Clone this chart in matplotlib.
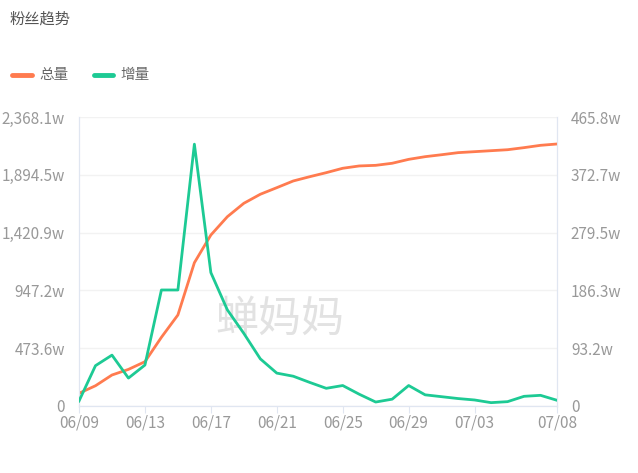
import matplotlib
matplotlib.use("Agg")
import matplotlib.pyplot as plt
from matplotlib.ticker import FixedLocator, FixedFormatter

plt.rcParams['font.family'] = ['Noto Sans CJK SC', 'DejaVu Sans']

# data (unit: w)
dates = ["06/09", "06/10", "06/11", "06/12", "06/13", "06/14", "06/15", "06/16",
         "06/17", "06/18", "06/19", "06/20", "06/21", "06/22", "06/23", "06/24",
         "06/25", "06/26", "06/27", "06/28", "06/29", "06/30", "07/01", "07/02",
         "07/03", "07/04", "07/05", "07/06", "07/07", "07/08"]
total = [104, 166, 254, 300, 363, 563, 746, 1174, 1401, 1551,
         1661, 1735, 1789, 1844, 1879, 1912, 1948, 1967, 1972, 1989,
         2021, 2043, 2059, 2076, 2084, 2092, 2100, 2117, 2136, 2147]
increase = [8, 65, 82, 45, 66, 187, 187, 422, 215, 155,
            117, 76, 53, 48, 38, 28.5, 33, 19, 6.4, 11,
            33, 18, 15, 12, 9.7, 5.4, 7, 15.6, 17.2, 9.2]

left_ticks = [0, 473.6, 947.2, 1420.9, 1894.5, 2368.1]
left_labels = ["0", "473.6w", "947.2w", "1,420.9w", "1,894.5w", "2,368.1w"]
right_ticks = [0, 93.2, 186.3, 279.5, 372.7, 465.8]
right_labels = ["0", "93.2w", "186.3w", "279.5w", "372.7w", "465.8w"]
xtick_idx = [0, 4, 8, 12, 16, 20, 24, 29]

ORANGE = "#ff7b4f"
GREEN = "#1dca94"
GRAY = "#999999"
AXC = "#e0e6f1"

fig = plt.figure(figsize=(6.38, 4.73), dpi=100)
ax = fig.add_axes([79/638, 1-406/473, (557-79)/638, (406-117)/473])
ax2 = ax.twinx()

x = list(range(len(dates)))

# watermark
ax.text(0.42, 0.30, "蝉妈妈", transform=ax.transAxes, fontsize=31,
        color="#e2e2e2", ha="center", va="center", zorder=0)

ax.plot(x, total, color=ORANGE, lw=2, zorder=3)
ax2.plot(x, increase, color=GREEN, lw=2, zorder=3)

ax.set_xlim(0, len(dates) - 1)
ax.set_ylim(0, left_ticks[-1])
ax2.set_ylim(0, right_ticks[-1])

ax.yaxis.set_major_locator(FixedLocator(left_ticks))
ax.yaxis.set_major_formatter(FixedFormatter(left_labels))
ax2.yaxis.set_major_locator(FixedLocator(right_ticks))
ax2.yaxis.set_major_formatter(FixedFormatter(right_labels))
ax.set_xticks(xtick_idx)
ax.set_xticklabels([dates[i] for i in xtick_idx])

ax.grid(axis="y", color="#f2f2f2", lw=1)
ax.set_axisbelow(True)

for a in (ax, ax2):
    a.spines["top"].set_visible(False)
    for s in ("left", "right", "bottom"):
        a.spines[s].set_color(AXC)
    a.tick_params(axis="y", length=0, colors=GRAY, labelsize=11, pad=10)
ax.tick_params(axis="x", length=5, color=AXC, colors=GRAY, labelsize=11, pad=1)
ax.tick_params(axis="x", color=AXC)

# title and legend
fig.text(10/638, 1-19/473, "粉丝趋势", fontsize=11, color="#555555",
         ha="left", va="center")
ly = 1 - 75/473
fig.add_artist(plt.Line2D([12/638, 32/638], [ly, ly], color=ORANGE, lw=3.5,
                          solid_capstyle="round"))
fig.text(39/638, ly, "总量", fontsize=10.5, color="#666666", ha="left", va="center")
fig.add_artist(plt.Line2D([94/638, 113/638], [ly, ly], color=GREEN, lw=3.5,
                          solid_capstyle="round"))
fig.text(120/638, ly, "增量", fontsize=10.5, color="#666666", ha="left", va="center")

fig.savefig("out.png", dpi=100)
